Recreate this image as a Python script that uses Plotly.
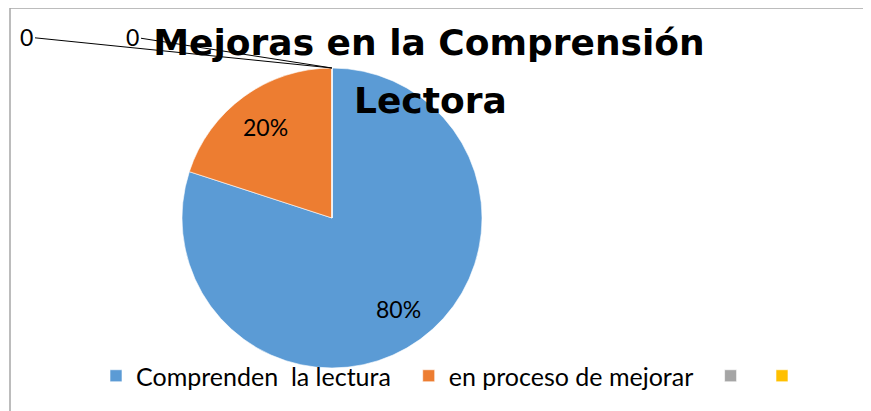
import math
import plotly.graph_objects as go

# ---- data ----
categories = ["Comprenden\u00a0 la lectura", "en proceso de mejorar", " ", "  "]
values = [80, 20, 0, 0]
colors = ["#5B9BD5", "#ED7D31", "#A5A5A5", "#FFC000"]
title_lines = ["Mejoras en la Comprensión", "Lectora"]

# ---- layout constants (pixels, in screen coordinates) ----
OFF = 8                      # default page margin of the browser body
W, H = 871 - OFF, 411 - OFF
CX, CY, R = 332, 218, 150
FONT = "Lato, 'Open Sans', sans-serif"
TITLE_FONT = "'DejaVu Sans', Lato, sans-serif"


def px(x):
    return (x - OFF) / W


def py(y):
    return 1 - (y - OFF) / H


legend_labels = [c + "\u00a0\u00a0" if c.strip() else c for c in categories]

fig = go.Figure(
    go.Pie(
        labels=legend_labels,
        values=values,
        marker=dict(colors=colors, line=dict(color="white", width=0.6)),
        sort=False,
        direction="clockwise",
        rotation=0,
        textinfo="none",
        hoverinfo="label+value+percent",
        domain=dict(x=[px(CX - R), px(CX + R)], y=[py(CY + R), py(CY - R)]),
    )
)

annotations = []
total = sum(values)
cum = 0.0
zero_offsets = [(-305, -31), (-199, -31)]
zi = 0
for lab, v in zip(categories, values):
    frac = v / total
    if v > 0:
        theta = math.radians((cum + frac / 2) * 360)
        x = CX + 0.75 * R * math.sin(theta)
        y = CY - 0.75 * R * math.cos(theta)
        annotations.append(dict(
            x=px(x), y=py(y), xref="paper", yref="paper",
            text=f"{round(frac * 100)}%", showarrow=False,
            font=dict(family=FONT, size=23, color="black"),
            xanchor="center", yanchor="middle",
        ))
    else:
        theta = math.radians(cum * 360)
        x = CX + R * math.sin(theta)
        y = CY - R * math.cos(theta)
        ax, ay = zero_offsets[zi % len(zero_offsets)]
        zi += 1
        annotations.append(dict(
            x=px(x), y=py(y), xref="paper", yref="paper",
            text=f"{v}", showarrow=True, ax=ax, ay=ay,
            arrowhead=0, arrowwidth=1, arrowcolor="black",
            font=dict(family=FONT, size=23, color="black"),
        ))
    cum += frac

# second title line
annotations.append(dict(
    x=px(430), y=py(100.5), xref="paper", yref="paper",
    text=f"<b>{title_lines[1]}</b>", showarrow=False,
    font=dict(family=TITLE_FONT, size=36, color="black"),
    xanchor="center", yanchor="middle",
))

fig.update_layout(
    width=W, height=H,
    margin=dict(l=0, r=0, t=0, b=0),
    paper_bgcolor="white",
    plot_bgcolor="white",
    title=dict(
        text=f"<b>{title_lines[0]}</b>",
        x=px(429), xanchor="center",
        y=py(42.5), yanchor="middle", yref="container",
        font=dict(family=TITLE_FONT, size=36, color="black"),
    ),
    showlegend=True,
    legend=dict(
        orientation="h",
        x=px(96), xanchor="left",
        y=py(376), yanchor="middle",
        font=dict(family=FONT, size=25, color="black"),
        bgcolor="rgba(0,0,0,0)",
        traceorder="normal",
    ),
    annotations=annotations,
    shapes=[
        dict(type="line", xref="paper", yref="paper",
             x0=px(10), x1=1.05, y0=py(8), y1=py(8),
             line=dict(color="#A6A6A6", width=1.5)),
        dict(type="line", xref="paper", yref="paper",
             x0=px(10), x1=px(10), y0=py(8), y1=-0.05,
             line=dict(color="#A6A6A6", width=1.5)),
    ],
)

fig.write_html("out.html")
